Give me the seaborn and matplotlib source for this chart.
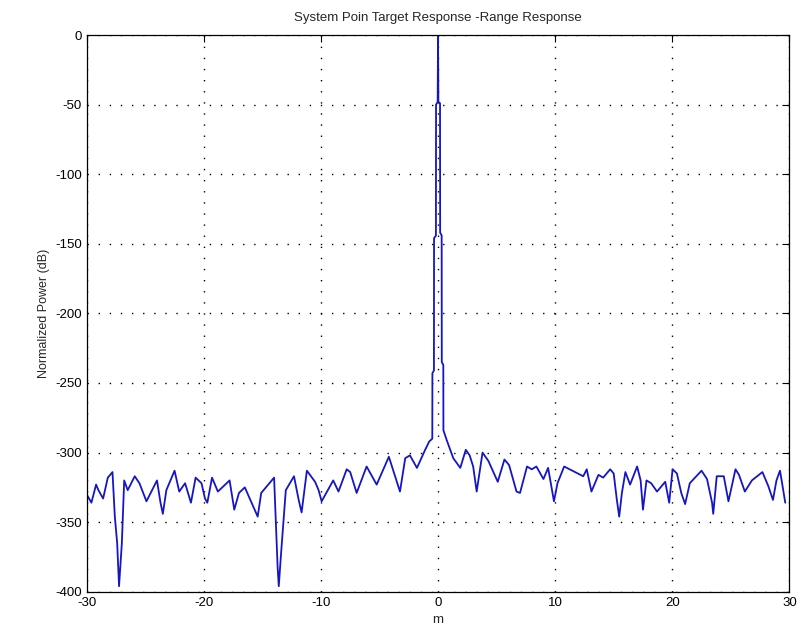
import numpy as np
import pandas as pd
import seaborn as sns
from matplotlib import pyplot as plt

# range axis (m) and normalized power (dB)
range_m = [
    -29.94, -29.6, -29.2, -29.0, -28.6, -28.2, -27.8, -27.6, -27.4, -27.24, -27.0, -26.8,
    -26.5, -25.9, -25.5, -24.9, -24.0, -23.7, -23.5, -23.2, -22.5, -22.1, -21.6, -21.1,
    -20.7, -20.2, -19.9, -19.7, -19.3, -18.8, -17.8, -17.4, -17.0, -16.5, -15.4, -15.1,
    -14.0, -13.85, -13.7, -13.6, -13.4, -13.2, -13.0, -12.3, -11.9, -11.65, -11.2, -10.5,
    -10.2, -9.94, -8.95, -8.5, -7.8, -7.5, -6.95, -6.1, -5.24, -4.2, -3.25, -2.8,
    -2.4, -1.8, -1.1, -0.75, -0.49, -0.48, -0.35, -0.34, -0.18, -0.17, -0.03, 0.0,
    0.03, 0.17, 0.18, 0.31, 0.32, 0.45, 0.46, 0.74, 1.3, 1.9, 2.37, 2.7,
    3.0, 3.3, 3.8, 4.3, 5.1, 5.67, 6.07, 6.7, 7.0, 7.6, 8.0, 8.4,
    9.0, 9.4, 9.9, 10.2, 10.77, 12.4, 12.7, 13.1, 13.7, 14.1, 14.7, 15.0,
    15.27, 15.47, 15.7, 16.0, 16.4, 17.0, 17.3, 17.5, 17.8, 18.2, 18.7, 19.4,
    19.74, 20.03, 20.4, 20.77, 21.1, 21.5, 22.5, 22.97, 23.4, 23.5, 23.8, 24.4,
    24.8, 25.4, 25.7, 26.2, 26.8, 27.7, 28.2, 28.6, 28.9, 29.2, 29.4, 29.65,
]
power_db = [
    -331, -336, -323, -327, -333, -318, -314, -346, -365, -396, -365, -320,
    -327, -317, -322, -335, -320, -336, -344, -327, -313, -328, -322, -336,
    -318, -322, -333, -336, -318, -328, -320, -341, -329, -325, -346, -329,
    -318, -350, -382, -396, -372, -350, -327, -317, -334, -343, -313, -321,
    -327, -335, -320, -328, -312, -314, -329, -310, -323, -303, -328, -304,
    -302, -311, -298, -292, -290, -243, -241, -146, -144, -50, -48, 0,
    -48, -49, -142, -144, -235, -237, -284, -291, -304, -311, -298, -302,
    -310, -328, -300, -306, -321, -305, -309, -328, -329, -310, -312, -310,
    -319, -311, -335, -322, -310, -317, -312, -328, -316, -318, -312, -315,
    -334, -346, -329, -314, -323, -310, -320, -341, -320, -322, -328, -321,
    -336, -312, -315, -329, -337, -322, -313, -319, -336, -344, -317, -317,
    -335, -312, -316, -328, -320, -314, -324, -334, -320, -313, -323, -336,
]

df = pd.DataFrame({"m": range_m, "power": power_db})

sns.set_style("white")
plt.rcParams["font.family"] = ["Liberation Sans", "DejaVu Sans"]
plt.rcParams["axes.unicode_minus"] = False

fig = plt.figure(figsize=(8.03, 6.37), dpi=100)
ax = fig.add_axes([0.108, 0.071, 0.875, 0.874])

sns.lineplot(data=df, x="m", y="power", ax=ax, sort=False, estimator=None,
             color="#1515c8", linewidth=1.3)

ax.set_xlim(-30, 30)
ax.set_ylim(-400, 0)
ax.set_xticks(np.arange(-30, 31, 10))
ax.set_yticks(np.arange(-400, 1, 50))
ax.grid(True, linestyle=(0, (1, 7)), color="black", linewidth=1.0)
ax.tick_params(direction="in", length=5, labelsize=9.5, colors="black",
               top=True, right=True)
for s in ax.spines.values():
    s.set_color("black")
    s.set_linewidth(0.9)

ax.set_xlabel("m", fontsize=9.5)
ax.set_ylabel("Normalized Power (dB)", fontsize=9)
ax.set_title("System Poin Target Response -Range Response", fontsize=9.5, pad=10)

fig.savefig("out.png", dpi=100)
